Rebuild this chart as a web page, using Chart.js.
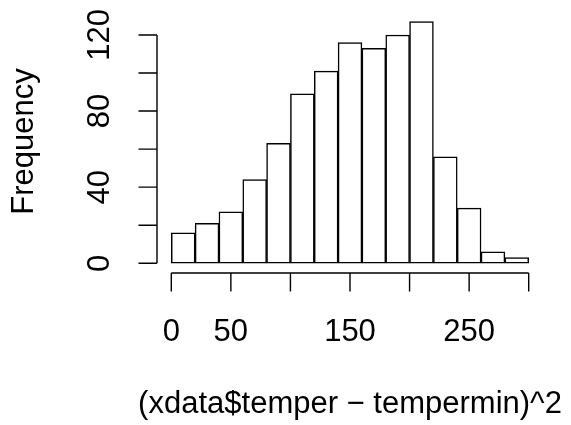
<!DOCTYPE html>
<html>
<head>
<meta charset="utf-8">
<script src="https://cdn.jsdelivr.net/npm/chart.js@4"></script>
<style>
  html, body { margin: 0; padding: 0; background: #fff; }
  #wrap { width: 571px; height: 425px; }
</style>
</head>
<body>
<div id="wrap"><canvas id="hist" width="571" height="425"></canvas></div>
<script>
// histogram data
const breaks = [0, 20, 40, 60, 80, 100, 120, 140, 160, 180, 200, 220, 240, 260, 280, 300];
const counts = [16, 21, 27, 44, 63, 89, 101, 116, 113, 120, 127, 56, 29, 6, 3];
const xTicks = [0, 50, 100, 150, 200, 250, 300];
const xTickLabels = ['0', '50', '', '150', '', '250', ''];
const yTicks = [0, 20, 40, 60, 80, 100, 120];
const yTickLabels = ['0', '', '40', '', '80', '', '120'];
const xTitle = '(xdata$temper \u2212 tempermin)^2';
const yTitle = 'Frequency';

const FONT = '31px "Liberation Sans", Arial, sans-serif';

// R style detached axes
const rAxes = {
    id: 'rAxes',
    afterDraw(chart) {
        const ctx = chart.ctx;
        const xs = chart.scales.x, ys = chart.scales.y;
        const area = chart.chartArea;
        const tick = 18.5;
        ctx.save();
        ctx.strokeStyle = '#000';
        ctx.lineWidth = 1.4;
        ctx.fillStyle = '#000';
        ctx.font = FONT;

        // x axis
        const ax = area.bottom;
        ctx.beginPath();
        ctx.moveTo(xs.getPixelForValue(xTicks[0]), ax);
        ctx.lineTo(xs.getPixelForValue(xTicks[xTicks.length - 1]), ax);
        xTicks.forEach(v => {
            const px = xs.getPixelForValue(v);
            ctx.moveTo(px, ax);
            ctx.lineTo(px, ax + tick);
        });
        ctx.stroke();
        ctx.textAlign = 'center';
        ctx.textBaseline = 'middle';
        xTicks.forEach((v, i) => {
            if (xTickLabels[i]) ctx.fillText(xTickLabels[i], xs.getPixelForValue(v), ax + 59);
        });
        ctx.fillText(xTitle, (area.left + area.right) / 2, ax + 131);

        // y axis
        const ay = area.left;
        ctx.beginPath();
        ctx.moveTo(ay, ys.getPixelForValue(yTicks[0]));
        ctx.lineTo(ay, ys.getPixelForValue(yTicks[yTicks.length - 1]));
        yTicks.forEach(v => {
            const py = ys.getPixelForValue(v);
            ctx.moveTo(ay, py);
            ctx.lineTo(ay - tick, py);
        });
        ctx.stroke();
        yTicks.forEach((v, i) => {
            if (!yTickLabels[i]) return;
            ctx.save();
            ctx.translate(ay - 57, ys.getPixelForValue(v));
            ctx.rotate(-Math.PI / 2);
            ctx.fillText(yTickLabels[i], 0, 0);
            ctx.restore();
        });
        ctx.save();
        ctx.translate(ay - 133, (area.top + area.bottom) / 2);
        ctx.rotate(-Math.PI / 2);
        ctx.fillText(yTitle, 0, 0);
        ctx.restore();
        ctx.restore();
    }
};

const mids = counts.map((c, i) => ({ x: (breaks[i] + breaks[i + 1]) / 2, y: c }));

new Chart(document.getElementById('hist').getContext('2d'), {
    type: 'bar',
    data: {
        datasets: [{
            data: mids,
            backgroundColor: '#ffffff',
            borderColor: '#000000',
            borderWidth: 1.5,
            borderSkipped: false,
            barPercentage: 1,
            categoryPercentage: 1
        }]
    },
    options: {
        responsive: false,
        animation: false,
        devicePixelRatio: 1,
        layout: { padding: { left: 157, right: 28, top: 10, bottom: 152 } },
        plugins: { legend: { display: false }, tooltip: { enabled: false } },
        scales: {
            x: { type: 'linear', min: -12, max: 312, offset: false, display: false },
            y: { min: -5.12, max: 133.12, display: false }
        }
    },
    plugins: [rAxes]
});
</script>
</body>
</html>
